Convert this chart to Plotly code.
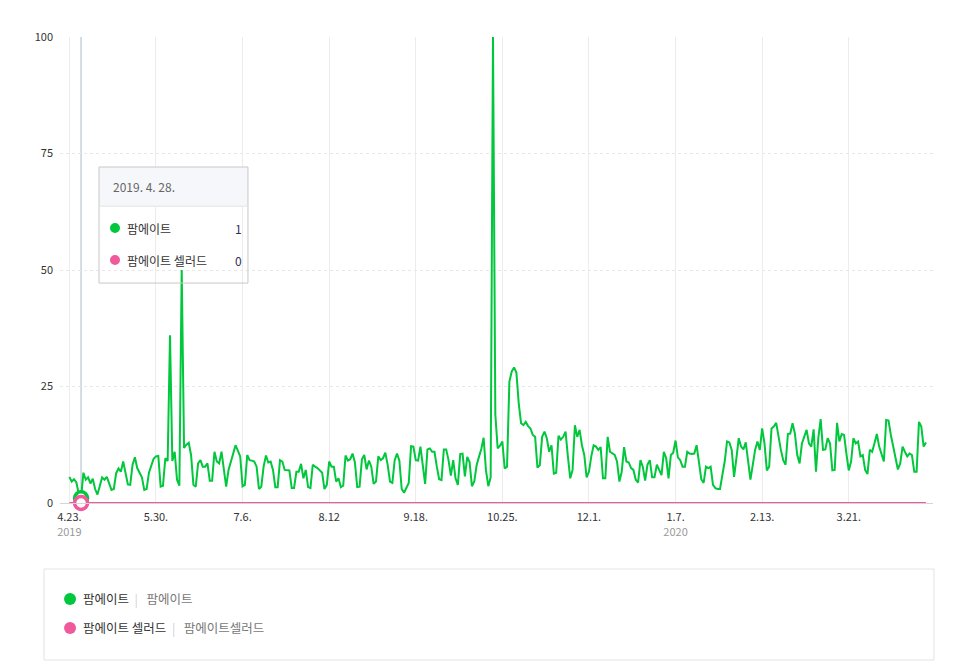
import datetime as dt
import plotly.graph_objects as go

# 네이버 데이터랩 검색어 트렌드 (일간, 2019.4.23 ~ 2020.4.23)
start_date = dt.date(2019, 4, 23)
hover_index = 5  # 2019. 4. 28.

farm8 = [
    5.6, 4.6, 5.1, 4.4, 2, 1, 6.5, 5, 5.5, 4.2, 5.2, 3, 1.8, 3.4,
    5.5, 5, 5.6, 4.2, 2.8, 3, 6.4, 7.4, 6.7, 8.9, 6.2, 4, 3.9, 8.2,
    9.8, 7.5, 6.5, 5.5, 2.8, 3, 6.5, 8.2, 9.5, 10, 10.1, 3.5, 3.7, 9.6,
    9, 36, 9, 11, 5, 3.7, 50, 11.8, 12.5, 12.9, 10.3, 3.9, 3.5, 8.5,
    9.2, 7.8, 7.8, 8.5, 4.8, 4.8, 11, 8.9, 8.5, 11, 6.7, 3.5, 7.1, 9.2,
    10.6, 12.4, 11, 10, 3.6, 3.9, 10.3, 9.2, 9.1, 8.9, 7.8, 3, 3.5, 7.8,
    10.2, 8.7, 8.9, 7.1, 3.4, 3.4, 9.2, 8.9, 7.1, 7.1, 7, 3.2, 3.2, 6.7,
    6.7, 8.4, 5.3, 7.1, 3.4, 3.2, 8.2, 7.8, 7.5, 7, 6.5, 3, 3.9, 8.9,
    7.8, 7.8, 4.6, 5.3, 3.4, 3.7, 10.2, 9.1, 9.4, 10.6, 8.7, 3.4, 3.5, 9.4,
    10.3, 7.2, 9.1, 7.8, 4.1, 4.6, 10, 9.2, 9.6, 10.8, 8.2, 4.6, 4.3, 9.2,
    10.6, 9.1, 3, 2.2, 3.2, 4.3, 12.2, 12.1, 9.2, 9.1, 12.1, 7.8, 4.1, 11.5,
    11.7, 11, 11, 7.8, 5.1, 4.9, 11.5, 11.5, 9.2, 5.9, 9.2, 5.3, 3.9, 10.5,
    10.6, 5.7, 9.9, 8.8, 3.6, 4.6, 8.1, 9.9, 11.6, 14, 7, 3.6, 5.5, 100,
    19, 11.7, 12.3, 13.2, 7.4, 7.8, 26, 28.2, 29.1, 28, 21.4, 17.1, 16.7, 17.4,
    16.5, 16, 14.6, 14.2, 7.6, 8.1, 14.2, 15.3, 13.9, 11, 12.4, 6.3, 6.5, 14.4,
    13.6, 14.2, 15.3, 10, 5.3, 7.1, 16.7, 14.2, 15.7, 12.4, 10.3, 5.5, 6.7, 10,
    12.4, 12.1, 11.4, 12, 5.3, 5.3, 14.2, 11, 10.6, 10.3, 8.9, 4.6, 6.7, 12,
    8.9, 8.7, 7.5, 7.1, 5, 4.4, 9.2, 7.8, 4.8, 8.2, 9.2, 5.5, 5.5, 8.2,
    7.1, 6, 11, 9.6, 5.3, 10.3, 10.8, 13.4, 9.8, 9.2, 7.8, 7.8, 11, 10.6,
    10.5, 10.6, 12.4, 8.5, 5.1, 4.3, 7.8, 7.5, 7.8, 3.9, 3.2, 3, 3, 6,
    8.9, 13.2, 13, 11.4, 5.6, 9.6, 13.9, 12.1, 11.5, 13, 8.5, 5, 8.2, 11.4,
    13.2, 11.4, 16, 12.8, 7, 7.8, 16, 16.4, 17.2, 14.2, 11.4, 9.2, 8.2, 14.8,
    14.9, 17.1, 14.9, 10.3, 8.5, 12.8, 14.2, 15.7, 12.8, 12.1, 15.8, 6.7, 14, 18,
    11.4, 11.5, 13.9, 12.8, 7, 7.1, 17.2, 13.2, 14.8, 14.6, 10.6, 7, 8.9, 13.9,
    12.8, 13.2, 10, 10.3, 7.1, 6.2, 11.4, 11, 12.8, 14.8, 12.1, 10.3, 8.9, 17.8,
    17.7, 14.6, 12.1, 10.3, 7.2, 8.5, 12.1, 11, 10, 10.6, 10.3, 6.7, 6.7, 17.4,
    16.4, 12.1, 13,
]
farm8_salad = [0] * len(farm8)

dates = [start_date + dt.timedelta(days=i) for i in range(len(farm8))]

tick_vals = ["2019-04-23", "2019-05-30", "2019-07-06", "2019-08-12", "2019-09-18",
             "2019-10-25", "2019-12-01", "2020-01-07", "2020-02-13", "2020-03-21"]
tick_labels = ["4.23.", "5.30.", "7.6.", "8.12", "9.18.",
               "10.25.", "12.1.", "1.7.", "2.13.", "3.21."]
tick_years = {0: "2019", 7: "2020"}

names = ["팜에이트", "팜에이트 셀러드"]
keywords = ["팜에이트", "팜에이트셀러드"]
colors = ["#00c73c", "#ee5a9b"]
series = [farm8, farm8_salad]

FONT = "Noto Sans CJK KR"
NB = "\u00a0"

ticktext = []
for i, lab in enumerate(tick_labels):
    if i in tick_years:
        lab += "<br><span style='color:#999999'>" + tick_years[i] + "</span>"
    ticktext.append(lab)

fig = go.Figure()

for name, vals, col in zip(names, series, colors):
    fig.add_trace(go.Scatter(x=dates, y=vals, mode="lines", name=name,
                             line=dict(color=col, width=2), hoverinfo="skip",
                             cliponaxis=False))

# 마우스 오버 지점 표시
for vals, col in zip(series, colors):
    fig.add_trace(go.Scatter(x=[dates[hover_index]], y=[vals[hover_index]], mode="markers",
                             marker=dict(size=13, color="white", line=dict(color=col, width=3.5)),
                             hoverinfo="skip", cliponaxis=False))

fig.add_shape(type="line", xref="x", yref="paper", x0=dates[hover_index], x1=dates[hover_index],
              y0=0, y1=1, line=dict(color="#a9b8ca", width=1), layer="below")

# 툴팁 박스
bx0, bx1, by0, by1, bsep = 0.0447, 0.2153, 0.472, 0.721, 0.637
fig.add_shape(type="rect", xref="paper", yref="paper", x0=bx0, x1=bx1, y0=bsep, y1=by1,
              fillcolor="#f6f7fb", line=dict(width=0))
fig.add_shape(type="rect", xref="paper", yref="paper", x0=bx0, x1=bx1, y0=by0, y1=by1,
              fillcolor="rgba(255,255,255,0)", line=dict(color="#c8c8c8", width=1))
fig.add_shape(type="line", xref="paper", yref="paper", x0=bx0, x1=bx1, y0=bsep, y1=bsep,
              line=dict(color="#e3e3e3", width=1))
d = dates[hover_index]
fig.add_annotation(xref="paper", yref="paper", x=0.0585, y=0.679, xanchor="left", yanchor="middle",
                   text=f"{d.year}. {d.month}. {d.day}.", showarrow=False,
                   font=dict(family=FONT, size=12, color="#666666"))
for k, (name, vals, col) in enumerate(zip(names, series, colors)):
    yy = 0.590 - k * 0.0687
    fig.add_shape(type="circle", xref="paper", yref="paper", xsizemode="pixel", ysizemode="pixel",
                  xanchor=0.0630, yanchor=yy, x0=-5, x1=5, y0=-5, y1=5,
                  fillcolor=col, line=dict(width=0))
    fig.add_annotation(xref="paper", yref="paper", x=0.0745, y=yy, xanchor="left", yanchor="middle",
                       text=name, showarrow=False, font=dict(family=FONT, size=12, color="#333333"))
    fig.add_annotation(xref="paper", yref="paper", x=0.2110, y=yy, xanchor="right", yanchor="middle",
                       text=f"{vals[hover_index]:g}", showarrow=False,
                       font=dict(family=FONT, size=12, color="#2e2e5c"))

# 하단 범례 박스
fig.add_shape(type="rect", xref="paper", yref="paper", x0=-0.0183, x1=1.0011, y0=-0.337, y1=-0.1416,
              line=dict(color="#e3e3e3", width=1), fillcolor="white")
for k, (name, kw, col) in enumerate(zip(names, keywords, colors)):
    yy = -0.2060 - k * 0.0622
    fig.add_shape(type="circle", xref="paper", yref="paper", xsizemode="pixel", ysizemode="pixel",
                  xanchor=0.0115, yanchor=yy, x0=-6, x1=6, y0=-6, y1=6,
                  fillcolor=col, line=dict(width=0))
    fig.add_annotation(xref="paper", yref="paper", x=0.0245, y=yy, xanchor="left", yanchor="middle",
                       text=(f"{name}{NB}{NB}<span style='color:#d0d0d0'>|</span>{NB}{NB}{NB}"
                             f"<span style='color:#777777'>{kw}</span>"),
                       showarrow=False, font=dict(family=FONT, size=12.5, color="#333333"))

fig.update_layout(
    width=948, height=658,
    margin=dict(l=52, r=23, t=29, b=163),
    paper_bgcolor="white", plot_bgcolor="white",
    showlegend=False,
    font=dict(family=FONT, size=11, color="#333333"),
    xaxis=dict(
        type="date",
        range=[dates[0] - dt.timedelta(days=4.3), dates[-1] + dt.timedelta(days=3)],
        tickmode="array", tickvals=tick_vals, ticktext=ticktext,
        showgrid=True, gridcolor="#ececec", gridwidth=1,
        showline=True, linecolor="#d5d5d5", linewidth=1,
        ticks="", tickfont=dict(family=FONT, size=11, color="#333333"),
        ticklabelstandoff=4,
        zeroline=False, fixedrange=True,
    ),
    yaxis=dict(
        range=[0, 100], tickmode="linear", tick0=0, dtick=25,
        showgrid=True, gridcolor="#e8e8e8", gridwidth=1, griddash="3px,3px",
        minor=dict(tickmode="linear", tick0=0, dtick=50, showgrid=True,
                   gridcolor="#ececec", gridwidth=1),
        zeroline=False, showline=False, ticks="",
        tickfont=dict(family=FONT, size=11, color="#333333"),
        ticklabelstandoff=6, fixedrange=True,
    ),
)

fig.write_html("out.html")
